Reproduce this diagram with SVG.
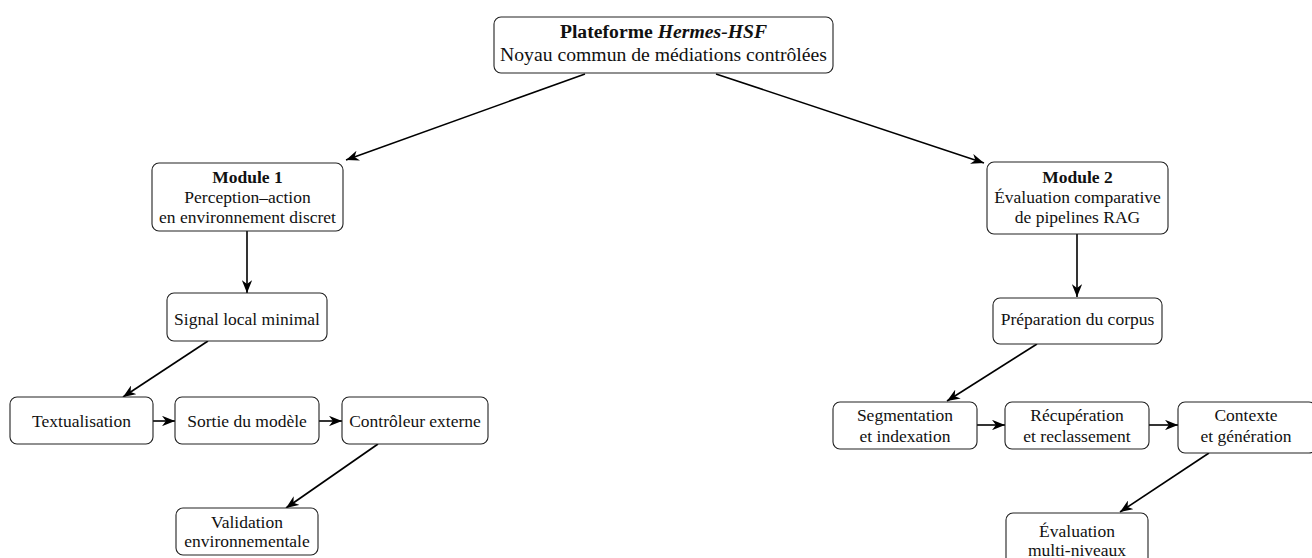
<svg xmlns="http://www.w3.org/2000/svg" width="1312" height="558" viewBox="0 0 1312 558">
<style>
.box{fill:#fff;stroke:#222;stroke-width:1.1}
.t{font-family:"Liberation Serif","Times New Roman",serif;font-size:17.5px;fill:#111;text-anchor:middle}
.tt{font-family:"Liberation Serif","Times New Roman",serif;font-size:19.7px;fill:#111;text-anchor:middle}
.b{font-weight:bold}
.c{stroke:#000;stroke-width:1.6;fill:none;marker-end:url(#ah)}
</style>
<defs>
<marker id="ah" viewBox="0 0 10 8" refX="10" refY="4" markerWidth="13" markerHeight="10.4" markerUnits="userSpaceOnUse" orient="auto">
<path d="M0,0 L10,4 L0,8 L3,4 z" fill="#000"/>
</marker>
</defs>
<rect width="1312" height="558" fill="#fff"/>
<g id="connectors">
<line class="c" x1="585" y1="74" x2="346" y2="160"/>
<line class="c" x1="716" y1="74" x2="984" y2="163"/>
<line class="c" x1="247" y1="231" x2="247" y2="293"/>
<line class="c" x1="208" y1="341" x2="123" y2="397"/>
<line class="c" x1="153" y1="421" x2="175" y2="421"/>
<line class="c" x1="319" y1="421" x2="342" y2="421"/>
<line class="c" x1="378" y1="444" x2="286" y2="508"/>
<line class="c" x1="1077" y1="234" x2="1077" y2="297"/>
<line class="c" x1="1037" y1="344" x2="947" y2="401"/>
<line class="c" x1="977" y1="425" x2="1005" y2="425"/>
<line class="c" x1="1149" y1="425" x2="1178" y2="425"/>
<line class="c" x1="1209" y1="453" x2="1120" y2="512"/>
</g>
<g id="platform">
<rect class="box" x="494" y="17" width="339" height="56" rx="7"/>
<text class="tt b" x="663.5" y="38">Plateforme <tspan font-style="italic">Hermes-HSF</tspan></text>
<text class="tt" x="663.5" y="61">Noyau commun de médiations contrôlées</text>
</g>
<g id="module1">
<rect class="box" x="152" y="163" width="191" height="68" rx="7"/>
<text class="t b" x="247.5" y="182.5">Module 1</text>
<text class="t" x="247.5" y="203">Perception–action</text>
<text class="t" x="247.5" y="223">en environnement discret</text>
</g>
<g id="signal">
<rect class="box" x="167" y="293" width="160" height="48" rx="7"/>
<text class="t" x="247" y="325">Signal local minimal</text>
</g>
<g id="textualisation">
<rect class="box" x="10" y="397" width="143" height="47" rx="7"/>
<text class="t" x="81.5" y="427">Textualisation</text>
</g>
<g id="sortie">
<rect class="box" x="175" y="397" width="144" height="47" rx="7"/>
<text class="t" x="247" y="427">Sortie du modèle</text>
</g>
<g id="controleur">
<rect class="box" x="342" y="397" width="146" height="47" rx="7"/>
<text class="t" x="415" y="427">Contrôleur externe</text>
</g>
<g id="validation">
<rect class="box" x="176" y="508" width="142" height="47" rx="7"/>
<text class="t" x="247" y="527.5">Validation</text>
<text class="t" x="247" y="546.5">environnementale</text>
</g>
<g id="module2">
<rect class="box" x="987" y="162" width="181" height="72" rx="7"/>
<text class="t b" x="1077.5" y="182.5">Module 2</text>
<text class="t" x="1077.5" y="203">Évaluation comparative</text>
<text class="t" x="1077.5" y="223">de pipelines RAG</text>
</g>
<g id="preparation">
<rect class="box" x="993" y="298" width="169" height="46" rx="7"/>
<text class="t" x="1077.5" y="325">Préparation du corpus</text>
</g>
<g id="segmentation">
<rect class="box" x="833" y="402" width="144" height="47" rx="7"/>
<text class="t" x="905" y="421">Segmentation</text>
<text class="t" x="905" y="441.5">et indexation</text>
</g>
<g id="recuperation">
<rect class="box" x="1005" y="402" width="144" height="47" rx="7"/>
<text class="t" x="1077" y="421">Récupération</text>
<text class="t" x="1077" y="441.5">et reclassement</text>
</g>
<g id="contexte">
<rect class="box" x="1178" y="402" width="138" height="51" rx="7"/>
<text class="t" x="1246" y="421">Contexte</text>
<text class="t" x="1246" y="441.5">et génération</text>
</g>
<g id="evaluation">
<rect class="box" x="1006" y="513" width="142" height="55" rx="7"/>
<text class="t" x="1077" y="536.5">Évaluation</text>
<text class="t" x="1077" y="556">multi-niveaux</text>
</g>
</svg>
